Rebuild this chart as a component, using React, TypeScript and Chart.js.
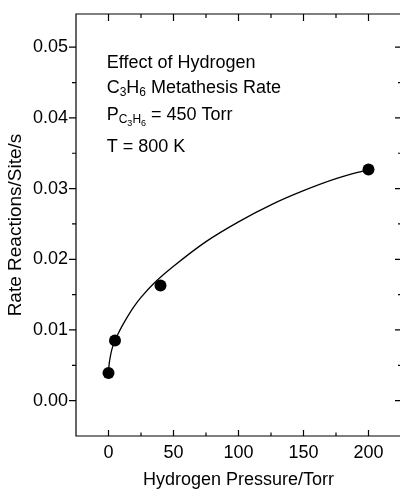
import React, { useEffect, useRef } from 'react';
import { Chart, registerables } from 'chart.js';
Chart.register(...registerables);

// Measured data points
const pressure = [0, 5, 40, 200];
const rate = [0.0039, 0.0085, 0.0163, 0.0327];
// Fitted curve
const fitPressure = [0, 0.5, 1, 2, 3, 5, 7.5, 10, 15, 20, 25, 35, 50, 75, 100, 125, 150, 175, 200];
const fitRate = [0.004, 0.0052, 0.0058, 0.0068, 0.0075, 0.0085, 0.0095, 0.0104, 0.012, 0.0134, 0.0146, 0.0166, 0.019, 0.0225, 0.0253, 0.0277, 0.0297, 0.0314, 0.0327];
// Axes
const xTicks = [0, 50, 100, 150, 200];
const xMinorTicks = [25, 75, 125, 175];
const yTicks = [0, 0.01, 0.02, 0.03, 0.04, 0.05];
const yMinorTicks = [0.005, 0.015, 0.025, 0.035, 0.045];
const xTitle = 'Hydrogen Pressure/Torr';
const yTitle = 'Rate Reactions/Site/s';
// Annotation text: [text, level] with level 0 normal, 1 subscript, 2 sub-subscript
const noteLines: [string, number][][] = [
  [['Effect of Hydrogen', 0]],
  [['C', 0], ['3', 1], ['H', 0], ['6', 1], [' Metathesis Rate', 0]],
  [['P', 0], ['C', 1], ['3', 2], ['H', 1], ['6', 2], [' = 450 Torr', 0]],
  [['T = 800 K', 0]],
];

const FONT = "'Liberation Sans', Arial, Helvetica, sans-serif";

const framePlugin = {
  id: 'frame',
  afterDatasetsDraw(chart: any) {
    const { ctx, chartArea: a, scales } = chart;
    const xs = scales.x;
    const ys = scales.y;
    ctx.save();
    ctx.strokeStyle = '#000';
    ctx.lineWidth = 1.2;
    ctx.beginPath();
    ctx.rect(a.left, a.top, a.right - a.left, a.bottom - a.top);
    ctx.stroke();
    ctx.beginPath();
    const xt = (v: number, major: boolean) => {
      const p = xs.getPixelForValue(v);
      const bl = major ? 6 : 3.5;
      const tl = major ? 7 : 4;
      ctx.moveTo(p, a.bottom);
      ctx.lineTo(p, a.bottom - bl);
      ctx.moveTo(p, a.top);
      ctx.lineTo(p, a.top + tl);
    };
    const yt = (v: number, major: boolean) => {
      const p = ys.getPixelForValue(v);
      const ll = major ? 7 : 4;
      const rl = major ? 6 : 3;
      ctx.moveTo(a.left, p);
      ctx.lineTo(a.left - ll, p);
      ctx.moveTo(a.right, p);
      ctx.lineTo(a.right - rl, p);
    };
    xTicks.forEach((v) => xt(v, true));
    xMinorTicks.forEach((v) => xt(v, false));
    yTicks.forEach((v) => yt(v, true));
    yMinorTicks.forEach((v) => yt(v, false));
    ctx.stroke();

    // annotation
    const sizes = [18, 12, 9];
    const dys = [0, 3, 6.3];
    const baselines = [54, 79, 106, 138];
    ctx.fillStyle = '#000';
    ctx.textBaseline = 'alphabetic';
    ctx.textAlign = 'left';
    noteLines.forEach((line, i) => {
      let x = a.left + 30.7;
      const by = a.top + baselines[i];
      line.forEach(([t, lvl]) => {
        ctx.font = `${sizes[lvl]}px ${FONT}`;
        ctx.fillText(t, x, by + dys[lvl]);
        x += ctx.measureText(t).width;
      });
    });
    ctx.restore();
  },
};

export default function App() {
  const ref = useRef<HTMLCanvasElement | null>(null);
  useEffect(() => {
    if (!ref.current) return;
    Chart.defaults.font.family = FONT;
    Chart.defaults.color = '#000';
    const chart = new Chart(ref.current, {
      type: 'scatter',
      data: {
        datasets: [
          {
            data: pressure.map((x, i) => ({ x, y: rate[i] })),
            pointRadius: 6,
            pointBackgroundColor: '#000',
            pointBorderWidth: 0,
            showLine: false,
            order: 1,
          },
          {
            data: fitPressure.map((x, i) => ({ x, y: fitRate[i] })),
            showLine: true,
            borderColor: '#000',
            borderWidth: 1.3,
            pointRadius: 0,
            cubicInterpolationMode: 'monotone',
            order: 2,
          },
        ],
      },
      options: {
        animation: false,
        responsive: false,
        events: [],
        layout: { padding: { top: 4, right: 7, left: 0, bottom: 0 } },
        plugins: { legend: { display: false }, tooltip: { enabled: false } },
        scales: {
          x: {
            type: 'linear',
            min: -25,
            max: 225,
            grid: { display: false, drawTicks: false },
            border: { display: false },
            afterBuildTicks: (s: any) => {
              s.ticks = xTicks.map((value) => ({ value }));
            },
            afterFit: (s: any) => {
              s.height = 53;
              s.paddingLeft = 0;
              s.paddingRight = 0;
              s.paddingTop = 0;
              s.paddingBottom = 0;
            },
            ticks: {
              padding: 6,
              font: { size: 18 },
              color: '#000',
              callback: (v: any) => String(v),
            },
            title: {
              display: true,
              text: xTitle,
              font: { size: 18, lineHeight: 1 },
              padding: { top: 0, bottom: 0 },
              color: '#000',
            },
          },
          y: {
            type: 'linear',
            min: -0.005,
            max: 0.0547,
            grid: { display: false, drawTicks: false },
            border: { display: false },
            afterBuildTicks: (s: any) => {
              s.ticks = yTicks.map((value) => ({ value }));
            },
            afterFit: (s: any) => {
              s.width = 68;
              s.paddingLeft = 0;
              s.paddingRight = 0;
              s.paddingTop = 0;
              s.paddingBottom = 0;
            },
            ticks: {
              padding: 8,
              font: { size: 18 },
              color: '#000',
              callback: (v: any) => Number(v).toFixed(2),
            },
            title: {
              display: true,
              text: yTitle,
              font: { size: 19, lineHeight: 0.83 },
              padding: { top: 0, bottom: 0 },
              color: '#000',
            },
          },
        },
      },
      plugins: [framePlugin],
    } as any);
    return () => chart.destroy();
  }, []);
  return (
    <div style={{ position: 'fixed', left: 8, top: 8, width: 392, height: 481, overflow: 'hidden', background: '#fff' }}>
      <canvas ref={ref} width={400} height={481} style={{ width: 400, height: 481, display: 'block' }} />
    </div>
  );
}
